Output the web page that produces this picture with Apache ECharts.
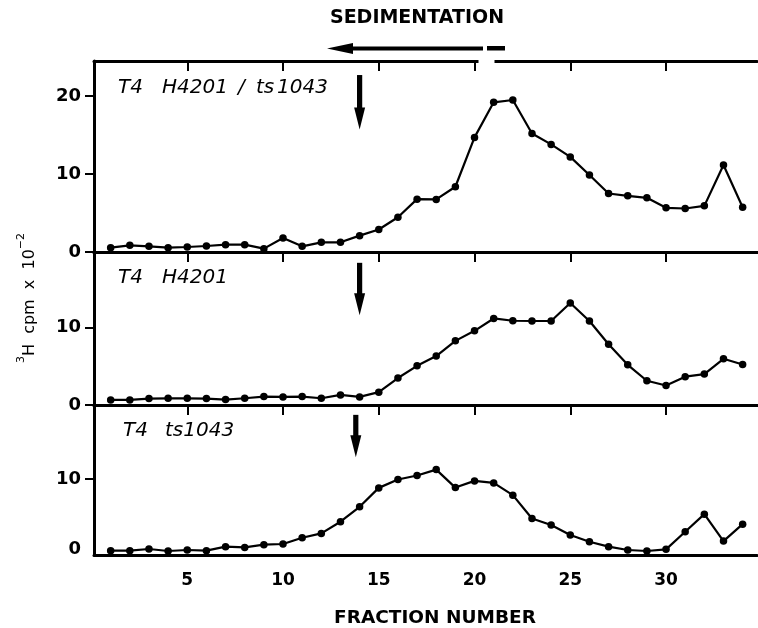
<!DOCTYPE html>
<html>
<head>
<meta charset="utf-8">
<script src="https://cdn.jsdelivr.net/npm/echarts@6/dist/echarts.min.js"></script>
<style>html,body{margin:0;padding:0;background:#fff}#c{width:758px;height:628px}</style>
</head>
<body>
<div id="c"></div>
<script>
// ---- data ----
const fractions = [1,2,3,4,5,6,7,8,9,10,11,12,13,14,15,16,17,18,19,20,21,22,23,24,25,26,27,28,29,30,31,32,33,34];
const doubleMutant = [0.56,0.86,0.73,0.56,0.64,0.77,0.94,0.94,0.43,1.8,0.73,1.24,1.24,2.1,2.88,4.46,6.78,6.74,8.37,14.7,19.2,19.5,15.2,13.8,12.2,9.87,7.5,7.2,6.95,5.67,5.58,5.92,11.16,5.75];
const h4201 = [0.66,0.66,0.83,0.87,0.87,0.83,0.7,0.87,1.09,1.05,1.09,0.87,1.31,1.05,1.66,3.49,5.07,6.33,8.3,9.6,11.2,10.9,10.87,10.87,13.2,10.87,7.86,5.2,3.14,2.53,3.67,4.0,5.98,5.24];
const ts1043 = [0.57,0.57,0.79,0.53,0.66,0.57,1.1,1.0,1.36,1.45,2.28,2.85,4.39,6.36,8.86,9.96,10.5,11.27,8.9,9.78,9.52,7.9,4.82,3.95,2.63,1.75,1.1,0.66,0.53,0.75,3.07,5.39,1.84,4.07];
const panelNames = [['T4','H4201','/','ts','1043'], ['T4','H4201'], ['T4','ts1043']];
const xTicks = [5,10,15,20,25,30];
const yTickSets = [[0,10,20],[0,10],[10]];
const yLabelSets = [[0,10,20],[0,10],[0,10]];
const yMax = [24.5, 19.8, 19.8];
// marker arrows (fraction, top value, tip value)
const arrowX = [14, 14, 13.8];
const arrowTop = [22.7, 18.4, 18.5];
const arrowTip = [15.7, 11.6, 12.9];

const seriesData = [doubleMutant, h4201, ts1043];
const grids = [
  {left:94, right:1, top:61, height:191},
  {left:94, right:1, top:252, height:153},
  {left:94, right:1, top:405, height:150}
];
const BOLD = 'DejaVu Sans';
const X_MIN = 0.13, X_MAX = 34.75;
const xAxes = [], yAxes = [], series = [];
for (let i = 0; i < 3; i++) {
  xAxes.push({
    type:'value', gridIndex:i, min:X_MIN, max:X_MAX, position:'bottom',
    axisLine:{show:true, onZero:false, lineStyle:{color:'#000', width:3}},
    axisTick:{show:false},
    splitLine:{show:false},
    axisLabel:{show:i===2, customValues:xTicks, color:'#000', fontFamily:BOLD, fontWeight:'bold', fontSize:17, margin:17}
  });
}
for (let i = 0; i < 3; i++) {
  xAxes.push({
    type:'value', gridIndex:i, min:X_MIN, max:X_MAX, position:'top',
    axisLine:{show:true, onZero:false, lineStyle:{color:'#000', width:3}},
    axisTick:{show:true, inside:true, length:10, customValues:xTicks, lineStyle:{color:'#000', width:2}},
    splitLine:{show:false},
    axisLabel:{show:false}
  });
}
for (let i = 0; i < 3; i++) {
  yAxes.push({
    type:'value', gridIndex:i, min:0, max:yMax[i],
    axisLine:{show:true, onZero:false, lineStyle:{color:'#000', width:3}},
    axisTick:{show:true, length:9, customValues:yTickSets[i], lineStyle:{color:'#000', width:2}},
    splitLine:{show:false},
    axisLabel:{customValues:yLabelSets[i], color:'#000', fontFamily:BOLD, fontWeight:'bold', fontSize:18, margin:13,
      formatter: (v) => (i === 2 && v === 0) ? '{up|0}' : String(v),
      rich:{up:{fontFamily:BOLD, fontWeight:'bold', fontSize:18, color:'#000', padding:[0,0,11,0]}}}
  });
  series.push({
    type:'line', xAxisIndex:i, yAxisIndex:i,
    data: fractions.map((f,k)=>[f, seriesData[i][k]]),
    symbol:'circle', symbolSize:7.5, showSymbol:true,
    lineStyle:{color:'#000', width:2.2},
    itemStyle:{color:'#000'},
    silent:true, animation:false
  });
}

const chart = echarts.init(document.getElementById('c'), null, {renderer:'canvas'});
const labelX = [[118,162,238,256,277], [118,162], [123,165]];
const labelY = [88, 278, 431];
const graphics = [
  {type:'text', style:{x:417, y:18, text:'SEDIMENTATION', font:'bold 19px "DejaVu Sans"', fill:'#000', align:'center', verticalAlign:'middle'}},
  {type:'polygon', shape:{points:[[327,48.5],[353,43],[353,54]]}, style:{fill:'#000'}},
  {type:'rect', shape:{x:352, y:46.5, width:131, height:4}, style:{fill:'#000'}},
  {type:'rect', shape:{x:487, y:46, width:18, height:4.5}, style:{fill:'#000'}},
  {type:'rect', shape:{x:478.5, y:57, width:16, height:8}, style:{fill:'#fff'}, z:100},
  {type:'text', x:27, y:298, rotation:Math.PI/2, style:{x:0, y:0, text:'{s|3}{n|H  cpm  x  10}{s|−2}', rich:{
      n:{font:'16px "DejaVu Sans"', fill:'#000', lineHeight:22, verticalAlign:'bottom'},
      s:{font:'11px "DejaVu Sans"', fill:'#000', lineHeight:22, verticalAlign:'top'}
    }, align:'center', verticalAlign:'middle'}},
  {type:'text', style:{x:435, y:618, text:'FRACTION NUMBER', font:'bold 18.5px "DejaVu Sans"', fill:'#000', align:'center', verticalAlign:'middle'}}
];
for (let i = 0; i < 3; i++) {
  for (let j = 0; j < panelNames[i].length; j++) {
    graphics.push({type:'text', style:{x:labelX[i][j], y:labelY[i], text:panelNames[i][j], font:'italic 20px "DejaVu Sans"', fill:'#000', align:'left', verticalAlign:'middle'}});
  }
}
chart.setOption({
  backgroundColor:'#fff',
  animation:false,
  grid:grids,
  xAxis:xAxes,
  yAxis:yAxes,
  series:series,
  graphic:graphics
});
// arrows at the marker fraction, placed through the axes' scales
const arrowGraphics = [];
for (let i = 0; i < 3; i++) {
  const p0 = chart.convertToPixel({xAxisIndex:i, yAxisIndex:i}, [arrowX[i], arrowTop[i]]);
  const p1 = chart.convertToPixel({xAxisIndex:i, yAxisIndex:i}, [arrowX[i], arrowTip[i]]);
  const headLen = 22, halfW = 5.5, halfShaft = 2.6;
  arrowGraphics.push({type:'rect', shape:{x:p0[0]-halfShaft, y:p0[1], width:halfShaft*2, height:(p1[1]-headLen)-p0[1]+1}, style:{fill:'#000'}});
  arrowGraphics.push({type:'polygon', shape:{points:[[p1[0]-halfW,p1[1]-headLen],[p1[0]+halfW,p1[1]-headLen],[p1[0],p1[1]]]}, style:{fill:'#000'}});
}
chart.setOption({graphic: graphics.concat(arrowGraphics)}, {replaceMerge:['graphic']});
</script>
</body>
</html>
